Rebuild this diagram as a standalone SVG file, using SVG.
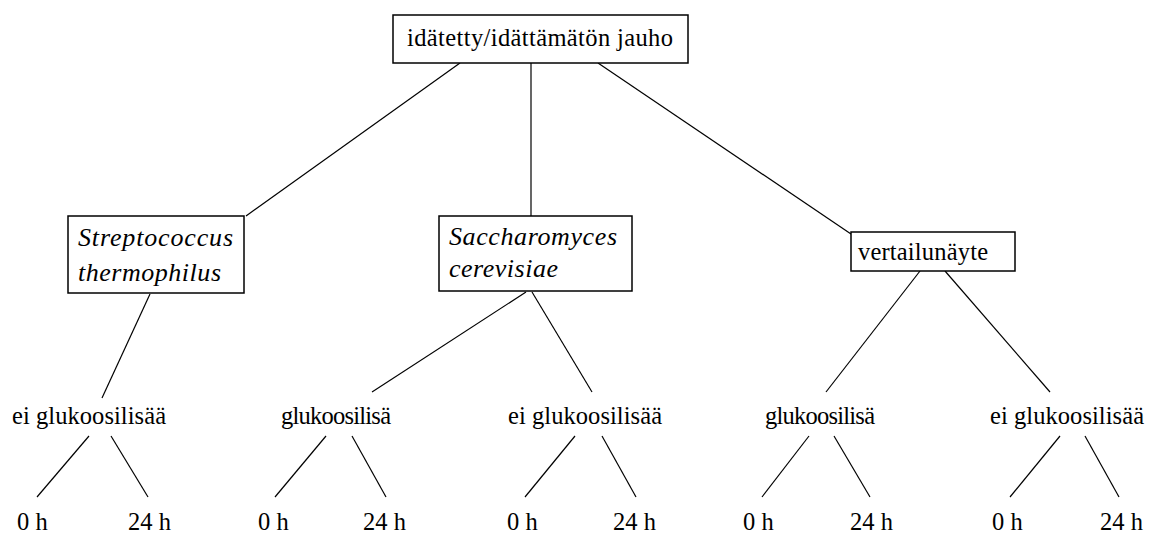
<svg xmlns="http://www.w3.org/2000/svg" width="1153" height="533" viewBox="0 0 1153 533">
<style>
text{font-family:'Liberation Serif','Times New Roman',Tinos,'Nimbus Roman','Noto Serif','DejaVu Serif',FreeSerif,Times,serif;font-size:24.5px;fill:#000}
.i{font-style:italic;font-size:26px}
.box{fill:#fff;stroke:#000;stroke-width:1.5}
#connectors line{stroke:#000;stroke-width:1.2}
</style>
<rect x="0" y="0" width="1153" height="533" fill="#fff"/>
<g id="connectors">
<line x1="460" y1="63" x2="246" y2="216"/>
<line x1="531" y1="63" x2="531" y2="216"/>
<line x1="598" y1="63" x2="851" y2="234"/>
<line x1="150" y1="294" x2="102" y2="398"/>
<line x1="526" y1="292" x2="372" y2="392"/>
<line x1="532" y1="292" x2="592" y2="392"/>
<line x1="920" y1="271" x2="826" y2="392"/>
<line x1="945" y1="271" x2="1050" y2="392"/>
<line x1="89" y1="436" x2="37" y2="497"/>
<line x1="111" y1="436" x2="148" y2="497"/>
<line x1="326" y1="436" x2="275" y2="497"/>
<line x1="352" y1="436" x2="386" y2="497"/>
<line x1="575" y1="436" x2="525" y2="497"/>
<line x1="602" y1="436" x2="636" y2="497"/>
<line x1="809" y1="436" x2="762" y2="497"/>
<line x1="834" y1="436" x2="870" y2="497"/>
<line x1="1060" y1="436" x2="1010" y2="497"/>
<line x1="1085" y1="436" x2="1119" y2="497"/>
</g>
<g id="root"><rect class="box" x="393" y="15" width="295" height="48"/><text x="407" y="46" textLength="266">idätetty/idättämätön jauho</text></g>
<g id="strep"><rect class="box" x="68" y="216" width="176" height="77"/><text class="i" x="78" y="246" textLength="155">Streptococcus</text><text class="i" x="78" y="281" textLength="143">thermophilus</text></g>
<g id="sacc"><rect class="box" x="439" y="216" width="193" height="75"/><text class="i" x="449" y="245" textLength="168">Saccharomyces</text><text class="i" x="449" y="277" textLength="109">cerevisiae</text></g>
<g id="vert"><rect class="box" x="851" y="232" width="164" height="39"/><text x="858" y="260" textLength="130">vertailunäyte</text></g>
<g id="s-ei"><text x="12" y="424" textLength="154">ei glukoosilisää</text></g>
<g id="c-glu"><text x="281" y="424" textLength="110">glukoosilisä</text></g>
<g id="c-ei"><text x="508" y="424" textLength="154">ei glukoosilisää</text></g>
<g id="v-glu"><text x="765" y="424" textLength="110">glukoosilisä</text></g>
<g id="v-ei"><text x="990" y="424" textLength="154">ei glukoosilisää</text></g>
<g id="t1a"><text x="17" y="530">0 h</text></g>
<g id="t1b"><text x="128" y="530">24 h</text></g>
<g id="t2a"><text x="258" y="530">0 h</text></g>
<g id="t2b"><text x="363" y="530">24 h</text></g>
<g id="t3a"><text x="507" y="530">0 h</text></g>
<g id="t3b"><text x="613" y="530">24 h</text></g>
<g id="t4a"><text x="743" y="530">0 h</text></g>
<g id="t4b"><text x="850" y="530">24 h</text></g>
<g id="t5a"><text x="992" y="530">0 h</text></g>
<g id="t5b"><text x="1100" y="530">24 h</text></g>
</svg>
